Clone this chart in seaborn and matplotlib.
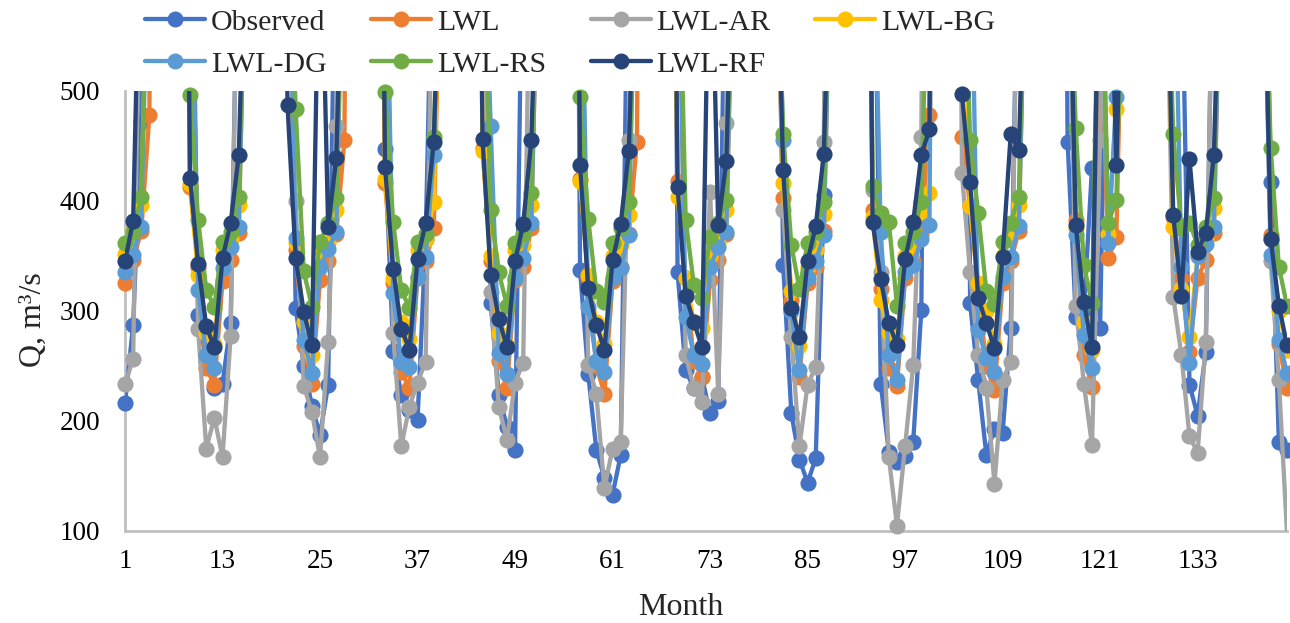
import numpy as np
import pandas as pd
import matplotlib
matplotlib.use("Agg")
import matplotlib.pyplot as plt
import seaborn as sns
from matplotlib.lines import Line2D

months = list(range(1, 145))

observed = [
    216, 287, 472, 1200, 2000, 2500, 2200, 1500, 800, 296, 255, 230,
    234, 289, 700, 1200, 2000, 2500, 2200, 1500, 800, 303, 250, 214,
    187, 233, 700, 1200, 2000, 2500, 2200, 1500, 447, 264, 224, 210,
    201, 365, 700, 1200, 2000, 2500, 2200, 1500, 800, 307, 224, 195,
    174, 700, 900, 1200, 2000, 2500, 2200, 1500, 337, 243, 174, 148,
    133, 169, 700, 1200, 2000, 2500, 2200, 1500, 335, 246, 230, 240,
    207, 218, 700, 1200, 2000, 2500, 2200, 1500, 900, 342, 207, 165,
    144, 166, 405, 1200, 2000, 2500, 2200, 1500, 800, 234, 172, 163,
    168, 181, 301, 1200, 2000, 2500, 2200, 1500, 307, 237, 169, 193,
    189, 285, 700, 1200, 2000, 2500, 2200, 1500, 454, 295, 300, 430,
    285, 700, 1000, 1200, 2000, 2500, 2200, 1500, 800, 800, 650, 233,
    205, 263, 700, 1200, 2000, 2500, 2200, 1500, 800, 417, 181, 174,
]
lwl = [
    325, 346, 373, 478, 1500, 2200, 2000, 1200, 413, 340, 248, 233,
    327, 346, 371, 700, 1500, 2200, 2000, 1200, 700, 355, 268, 234,
    328, 345, 370, 455, 1500, 2200, 2000, 1200, 416, 325, 245, 230,
    330, 345, 375, 700, 1500, 2200, 2000, 1200, 448, 345, 255, 230,
    328, 340, 375, 700, 1500, 2200, 2000, 1200, 420, 330, 250, 225,
    327, 340, 370, 454, 1500, 2200, 2000, 1200, 418, 330, 255, 240,
    328, 346, 370, 700, 1500, 2200, 2000, 1200, 700, 403, 310, 240,
    325, 340, 373, 700, 1500, 2200, 2000, 1200, 392, 320, 248, 232,
    330, 345, 370, 478, 1500, 2200, 2000, 458, 395, 320, 250, 228,
    325, 345, 373, 700, 1500, 2200, 2000, 1200, 700, 383, 260, 231,
    600, 348, 367, 700, 1500, 2200, 2000, 1200, 700, 385, 330, 263,
    330, 346, 371, 700, 1500, 2200, 2000, 1200, 700, 369, 270, 230,
]
lwl_ar = [
    234, 256, 700, 1500, 2200, 2500, 2000, 1200, 700, 284, 175, 203,
    167, 277, 700, 1500, 2200, 2500, 2000, 1200, 700, 400, 232, 208,
    167, 272, 468, 1500, 2200, 2500, 2000, 1200, 700, 280, 177, 213,
    235, 254, 700, 1500, 2200, 2500, 2000, 1200, 700, 317, 213, 183,
    235, 253, 700, 1500, 2200, 2500, 2000, 1200, 700, 251, 225, 139,
    175, 181, 455, 1500, 2200, 2500, 2000, 1200, 700, 260, 230, 217,
    408, 225, 471, 1500, 2200, 2500, 2000, 1200, 700, 392, 276, 177,
    233, 249, 454, 1500, 2200, 2500, 2000, 1200, 410, 335, 167, 105,
    177, 251, 458, 1500, 2200, 2500, 2000, 425, 335, 260, 230, 143,
    237, 254, 700, 1500, 2200, 2500, 2000, 1200, 700, 305, 234, 178,
    455, 700, 700, 1500, 2200, 2500, 2000, 1200, 700, 313, 260, 186,
    171, 272, 700, 1500, 2200, 2500, 2000, 1200, 700, 345, 237, 98,
]
lwl_bg = [
    352, 373, 396, 700, 1500, 2200, 2000, 1200, 415, 333, 280, 270,
    355, 365, 396, 700, 1500, 2200, 2000, 1200, 700, 362, 290, 260,
    356, 362, 392, 700, 1500, 2200, 2000, 1200, 420, 330, 290, 275,
    355, 365, 399, 700, 1500, 2200, 2000, 1200, 445, 350, 280, 268,
    355, 360, 396, 700, 1500, 2200, 2000, 1200, 418, 333, 290, 270,
    350, 360, 387, 700, 1500, 2200, 2000, 1200, 404, 330, 290, 285,
    350, 362, 392, 700, 1500, 2200, 2000, 1200, 700, 416, 318, 268,
    340, 355, 388, 700, 1500, 2200, 2000, 1200, 385, 310, 280, 275,
    350, 360, 390, 407, 1500, 2200, 2000, 700, 395, 325, 300, 270,
    350, 372, 396, 700, 1500, 2200, 2000, 1200, 700, 375, 290, 265,
    700, 370, 484, 700, 1500, 2200, 2000, 1200, 700, 376, 320, 276,
    350, 365, 394, 700, 1500, 2200, 2000, 1200, 700, 365, 300, 265,
]
lwl_dg = [
    335, 351, 376, 700, 1500, 2200, 2000, 1200, 700, 319, 260, 248,
    339, 358, 376, 700, 1500, 2200, 2000, 1200, 700, 366, 274, 244,
    340, 356, 372, 700, 1500, 2200, 2000, 1200, 700, 316, 254, 249,
    331, 349, 442, 700, 1500, 2200, 2000, 1200, 700, 468, 262, 243,
    330, 348, 380, 700, 1500, 2200, 2000, 1200, 700, 304, 255, 245,
    330, 339, 369, 700, 1500, 2200, 2000, 1200, 700, 295, 260, 252,
    340, 358, 372, 700, 1500, 2200, 2000, 1200, 700, 455, 300, 246,
    330, 345, 369, 700, 1500, 2200, 2000, 1200, 700, 372, 260, 237,
    335, 342, 365, 378, 1500, 2200, 2000, 1200, 700, 283, 257, 245,
    331, 349, 377, 700, 1500, 2200, 2000, 1200, 700, 369, 278, 248,
    700, 362, 495, 700, 1500, 2200, 2000, 1200, 700, 700, 340, 253,
    350, 361, 376, 700, 1500, 2200, 2000, 1200, 700, 351, 274, 244,
]
lwl_rs = [
    362, 372, 404, 700, 1500, 2200, 2000, 1200, 496, 383, 319, 304,
    363, 372, 404, 700, 1500, 2200, 2000, 1200, 700, 484, 336, 304,
    363, 380, 403, 700, 1500, 2200, 2000, 1200, 499, 381, 319, 303,
    363, 370, 458, 700, 1500, 2200, 2000, 1200, 700, 392, 335, 305,
    362, 370, 407, 700, 1500, 2200, 2000, 1200, 495, 384, 318, 308,
    362, 375, 399, 700, 1500, 2200, 2000, 1200, 700, 383, 324, 312,
    367, 380, 401, 700, 1500, 2200, 2000, 1200, 700, 461, 360, 320,
    362, 372, 399, 700, 1500, 2200, 2000, 1200, 414, 389, 381, 305,
    362, 372, 399, 700, 1500, 2200, 2000, 700, 455, 389, 318, 306,
    363, 380, 404, 700, 1500, 2200, 2000, 1200, 700, 466, 342, 307,
    700, 380, 401, 700, 1500, 2200, 2000, 1200, 700, 461, 375, 380,
    360, 376, 403, 700, 1500, 2200, 2000, 1200, 700, 448, 340, 305,
]
lwl_rf = [
    345, 382, 700, 1500, 2200, 2500, 2000, 1200, 421, 343, 286, 267,
    348, 380, 442, 700, 1500, 2200, 2000, 1200, 487, 348, 299, 269,
    700, 376, 439, 700, 1500, 2200, 2000, 1200, 431, 338, 284, 265,
    347, 380, 454, 700, 1500, 2200, 2000, 1200, 456, 333, 293, 267,
    345, 379, 455, 700, 1500, 2200, 2000, 1200, 433, 321, 287, 265,
    346, 379, 445, 700, 1500, 2200, 2000, 1200, 413, 314, 290, 267,
    700, 378, 436, 700, 1500, 2200, 2000, 1200, 700, 428, 303, 276,
    345, 377, 443, 700, 1500, 2200, 2000, 1200, 381, 329, 289, 269,
    347, 381, 442, 465, 1500, 2200, 2000, 497, 417, 312, 289, 266,
    349, 461, 446, 700, 1500, 2200, 2000, 1200, 700, 378, 308, 267,
    700, 700, 433, 700, 1500, 2200, 2000, 1200, 700, 387, 314, 438,
    354, 371, 442, 700, 1500, 2200, 2000, 1200, 700, 365, 305, 269,
]

series_names = ["Observed", "LWL", "LWL-AR", "LWL-BG", "LWL-DG", "LWL-RS", "LWL-RF"]
series_values = [observed, lwl, lwl_ar, lwl_bg, lwl_dg, lwl_rs, lwl_rf]
colors = ["#4472C4", "#ED7D31", "#A5A5A5", "#FFC000", "#5B9BD5", "#70AD47", "#264478"]
x_ticks = list(range(1, 145, 12))
y_ticks = [100, 200, 300, 400, 500]

sns.set_theme(style="white")
plt.rcParams["font.family"] = ["Liberation Serif", "DejaVu Serif"]

W, H = 1290, 623
fig = plt.figure(figsize=(W / 100, H / 100), dpi=100)
L, R, T, B = 125, 1287, 91, 531
ax = fig.add_axes([L / W, 1 - B / H, (R - L) / W, (B - T) / H])

for i, (name, vals, c) in enumerate(zip(series_names, series_values, colors)):
    df = pd.DataFrame({"Month": months, "Q": vals})
    sns.lineplot(data=df, x="Month", y="Q", color=c, linewidth=3.1, ax=ax,
                 zorder=3 + 2 * i, legend=False)
    vis = df[(df["Q"] >= 100) & (df["Q"] <= 500)]
    sns.scatterplot(data=vis, x="Month", y="Q", color=c, s=135, linewidth=0,
                    ax=ax, clip_on=False, zorder=4 + 2 * i, legend=False)

ax.set_xlim(1, 144)
ax.set_ylim(100, 500)
ax.set_xticks(x_ticks)
ax.set_yticks(y_ticks)
ax.tick_params(axis="both", length=0, labelsize=19.5, colors="black")
ax.tick_params(axis="y", pad=18)
ax.tick_params(axis="x", pad=13)
for s in ["top", "right"]:
    ax.spines[s].set_visible(False)
for s in ["left", "bottom"]:
    ax.spines[s].set_color("#BFBFBF")
    ax.spines[s].set_linewidth(2)
ax.grid(False)

ax.set_xlabel("Month", fontsize=23)
ax.xaxis.set_label_coords((681 - L) / (R - L), -0.14)
ax.set_ylabel("Q, m³/s", fontsize=23)
ax.yaxis.set_label_coords(-0.066, 0.48)

handles = [Line2D([], [], color=c, lw=3.1, marker="o", markersize=11.5,
                  markeredgewidth=0) for c in colors]
order = [0, 4, 1, 5, 2, 6, 3]
fig.legend([handles[k] for k in order], [series_names[k] for k in order],
           ncol=4, loc="upper left", bbox_to_anchor=(145 / W, 1 - 9 / H),
           frameon=False, fontsize=21.5, handlelength=2.0, handletextpad=0.2,
           columnspacing=1.5, labelspacing=0.5, borderpad=0, borderaxespad=0)

fig.savefig("out.png", dpi=100)
